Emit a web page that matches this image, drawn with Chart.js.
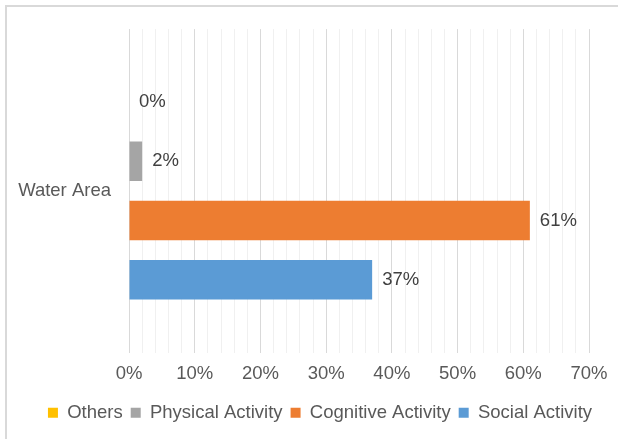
<!DOCTYPE html>
<html>
<head>
<meta charset="utf-8">
<script src="https://cdn.jsdelivr.net/npm/chart.js@4.4.0/dist/chart.umd.min.js"></script>
<style>
  body { margin: 0; background: #fff; }
  #wrap { position: relative; width: 618px; height: 439px; }
</style>
</head>
<body>
<div id="wrap"><canvas id="areaChart" width="618" height="439"></canvas></div>
<script>
// datos del grafico
const categories = ['Water Area'];
const seriesNames = ['Others', 'Physical Activity', 'Cognitive Activity', 'Social Activity'];
const others = [0];
const physical = [2];
const cognitive = [61];
const social = [37];
const xTicks = [0, 10, 20, 30, 40, 50, 60, 70];

const colores = ['#FFC000', '#A5A5A5', '#ED7D31', '#5B9BD5'];
const textColor = '#595959';
const fuente = 'Arial, "Liberation Sans", sans-serif';
const tam = 18.5;

// marco gris arriba e izquierda
const marco = {
  id: 'marco',
  beforeDraw(chart) {
    const c = chart.ctx;
    c.save();
    c.fillStyle = '#d9d9d9';
    c.fillRect(5, 5, 613, 2);
    c.fillRect(5, 5, 2, 434);
    c.restore();
  }
};

// centrar la leyenda en todo el marco
const leyendaCentro = {
  id: 'leyendaCentro',
  afterLayout(chart) {
    chart.legend.left = 22;
    chart.legend.right = 618;
  }
};

// etiquetas de valor al final de cada barra
const etiquetas = {
  id: 'etiquetas',
  afterDatasetsDraw(chart) {
    const c = chart.ctx;
    c.save();
    c.font = tam + 'px ' + fuente;
    c.fillStyle = '#404040';
    c.textAlign = 'left';
    c.textBaseline = 'middle';
    chart.data.datasets.forEach((ds, i) => {
      chart.getDatasetMeta(i).data.forEach((bar, j) => {
        c.fillText(ds.data[j] + '%', bar.x + 10, bar.y);
      });
    });
    c.restore();
  }
};

const ctx = document.getElementById('areaChart').getContext('2d');
new Chart(ctx, {
  type: 'bar',
  data: {
    labels: categories,
    datasets: [
      { label: seriesNames[0], data: others, backgroundColor: colores[0] },
      { label: seriesNames[1], data: physical, backgroundColor: colores[1] },
      { label: seriesNames[2], data: cognitive, backgroundColor: colores[2] },
      { label: seriesNames[3], data: social, backgroundColor: colores[3] }
    ]
  },
  options: {
    indexAxis: 'y',
    responsive: false,
    animation: false,
    devicePixelRatio: 1,
    categoryPercentage: 0.733,
    barPercentage: 0.667,
    layout: { padding: { left: 0, top: 28, right: 29, bottom: 7 } },
    plugins: {
      legend: {
        position: 'bottom',
        labels: {
          boxWidth: 10,
          boxHeight: 10,
          padding: 8,
          color: textColor,
          font: { size: tam, family: fuente }
        }
      },
      tooltip: { enabled: false }
    },
    scales: {
      x: {
        min: xTicks[0],
        max: xTicks[xTicks.length - 1],
        afterFit(s) { s.height = 43; },
        ticks: {
          stepSize: 2,
          autoSkip: false,
          maxRotation: 0,
          padding: 10,
          color: textColor,
          font: { size: tam, family: fuente },
          callback: (v) => xTicks.includes(v) ? v + '%' : ''
        },
        grid: {
          drawTicks: false,
          color: (c) => (c.tick && c.tick.value % 10 === 0) ? '#d9d9d9' : '#f0f0f0'
        },
        border: { display: false }
      },
      y: {
        afterFit(s) { s.width = 129; },
        ticks: {
          padding: 18,
          color: textColor,
          font: { size: tam, family: fuente }
        },
        grid: { display: false, drawTicks: false },
        border: { display: true, color: '#d9d9d9', width: 1 }
      }
    }
  },
  plugins: [marco, leyendaCentro, etiquetas]
});
</script>
</body>
</html>
